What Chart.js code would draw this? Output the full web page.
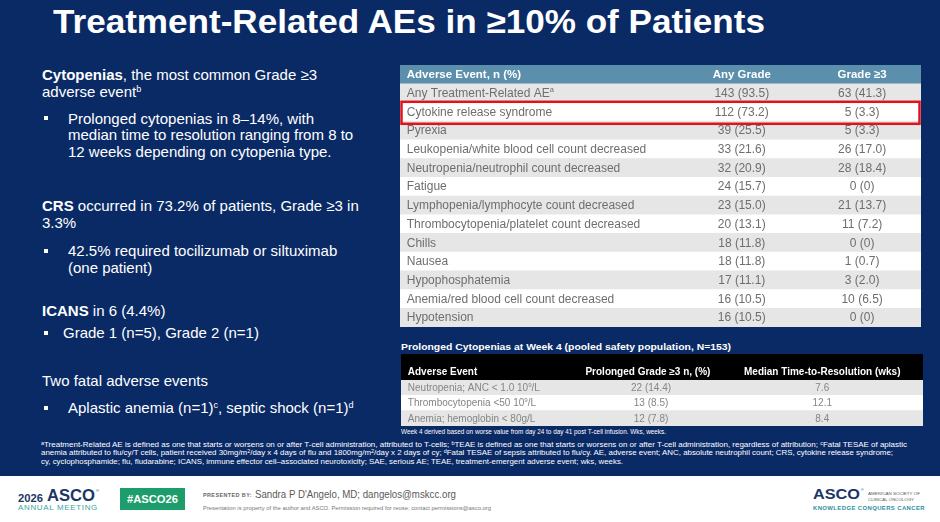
<!DOCTYPE html>
<html>
<head>
<meta charset="utf-8">
<script src="https://cdn.jsdelivr.net/npm/chart.js@4.4.0/dist/chart.umd.min.js"></script>
<style>
  html, body { margin: 0; padding: 0; }
  body { width: 940px; height: 522px; position: relative; overflow: hidden; background: #fff; font-family: "Liberation Sans", Arial, sans-serif; }
  #slide { position: absolute; left: 0; top: 0; width: 940px; height: 476px; background: #0a2a66; }
  .t { position: absolute; white-space: nowrap; transform-origin: 0 50%; }
  .w { color: #fff; }
  .para { position: absolute; color: #fff; font-size: 15px; line-height: 16.7px; white-space: nowrap; }
  .para sup { font-size: 9px; vertical-align: 5px; line-height: 0; }
  .bul { position: absolute; width: 4px; height: 4px; background: #fff; }
  canvas { position: absolute; }
  .fn { color: #fff; font-size: 7.3px; line-height: 8.5px; }
  .fn sup { font-size: 5px; vertical-align: 2px; line-height: 0; }
</style>
</head>
<body>
<div id="slide"></div>

<div class="t w" data-w="712" style="left:53px; top:1.6px; font-size:33px; line-height:40px; font-weight:bold;">Treatment-Related AEs in ≥10% of Patients</div>

<!-- left column text -->
<div class="para" style="left:42px; top:67px;"><b>Cytopenias</b>, the most common Grade ≥3<br>adverse event<sup>b</sup></div>
<div class="bul" style="left:44px; top:116px;"></div>
<div class="para" style="left:68px; top:110.6px;">Prolonged cytopenias in 8–14%, with<br>median time to resolution ranging from 8 to<br>12 weeks depending on cytopenia type.</div>
<div class="para" style="left:42px; top:198.4px;"><b>CRS</b> occurred in 73.2% of patients, Grade ≥3 in<br>3.3%</div>
<div class="bul" style="left:44px; top:249px;"></div>
<div class="para" style="left:68px; top:243px;">42.5% required tocilizumab or siltuximab<br>(one patient)</div>
<div class="para" style="left:42px; top:303.4px;"><b>ICANS</b> in 6 (4.4%)</div>
<div class="bul" style="left:44px; top:331px;"></div>
<div class="para" style="left:63px; top:325px;">Grade 1 (n=5), Grade 2 (n=1)</div>
<div class="para" style="left:42px; top:373.4px;">Two fatal adverse events</div>
<div class="bul" style="left:44px; top:406px;"></div>
<div class="para" style="left:68px; top:400px;">Aplastic anemia (n=1)<sup>c</sup>, septic shock (n=1)<sup>d</sup></div>

<!-- tables -->
<canvas id="aeTable" width="521" height="262" style="left:400px; top:65px;"></canvas>
<div class="t w" data-w="330" style="left:401px; top:341px; font-size:9.5px; line-height:12px; font-weight:bold;">Prolonged Cytopenias at Week 4 (pooled safety population, N=153)</div>
<canvas id="cytoHead" width="522" height="26" style="left:401px; top:354px;"></canvas>
<canvas id="cytoBody" width="522" height="46" style="left:401px; top:380px;"></canvas>
<div class="t w" data-w="265" style="left:401px; top:427px; font-size:8px; line-height:10px;">Week 4 derived based on worse value from day 24 to day 41 post T-cell infusion. Wks, weeks.</div>

<!-- footnotes -->
<div class="t fn" data-w="866" style="left:41px; top:440.7px;"><sup>a</sup>Treatment-Related AE is defined as one that starts or worsens on or after T-cell administration, attributed to T-cells; <sup>b</sup>TEAE is defined as one that starts or worsens on or after T-cell administration, regardless of attribution; <sup>c</sup>Fatal TESAE of aplastic</div>
<div class="t fn" data-w="852" style="left:41px; top:449.2px;">anemia attributed to flu/cy/T cells, patient received 30mg/m<sup>2</sup>/day x 4 days of flu and 1800mg/m<sup>2</sup>/day x 2 days of cy; <sup>d</sup>Fatal TESAE of sepsis attributed to flu/cy. AE, adverse event; ANC, absolute neutrophil count; CRS, cytokine release syndrome;</div>
<div class="t fn" data-w="582" style="left:41px; top:457.7px;">cy, cyclophosphamide; flu, fludarabine; ICANS, immune effector cell–associated neurotoxicity; SAE, serious AE; TEAE, treatment-emergent adverse event; wks, weeks.</div>

<!-- footer -->
<div class="t" data-w="25" style="left:18px; top:492px; font-size:11px; line-height:12px; font-weight:bold; color:#1c3567;">2026</div>
<div class="t" data-w="48" style="left:47px; top:486px; font-size:17px; line-height:20px; font-weight:bold; color:#1c3567;">ASCO</div>
<div class="t" style="left:96px; top:488px; font-size:4px; line-height:5px; color:#1c3567;">®</div>
<div class="t" data-w="80" style="left:18px; top:504px; font-size:7px; line-height:8px; letter-spacing:0.6px; color:#3aa6a1;">ANNUAL MEETING</div>
<div style="position:absolute; left:120px; top:488px; width:65px; height:22px; background:#1d9d6b;"></div>
<div class="t" data-w="51" style="left:127px; top:492px; font-size:11px; line-height:14px; font-weight:bold; color:#fff;">#ASCO26</div>
<div class="t" data-w="49" style="left:203px; top:491.5px; font-size:5px; line-height:6px; font-weight:bold; letter-spacing:0.4px; color:#666;">PRESENTED BY:</div>
<div class="t" data-w="201" style="left:255px; top:488px; font-size:10.5px; line-height:12px; color:#5a5a5a;">Sandra P D'Angelo, MD; dangelos@mskcc.org</div>
<div class="t" data-w="288" style="left:203px; top:505px; font-size:5.5px; line-height:6px; color:#777;">Presentation is property of the author and ASCO. Permission required for reuse; contact permissions@asco.org</div>
<div class="t" data-w="47" style="left:813px; top:485px; font-size:15px; line-height:18px; font-weight:bold; color:#1c3567;">ASCO</div>
<div class="t" style="left:861px; top:488px; font-size:3.5px; line-height:4px; color:#1c3567;">®</div>
<div class="t" data-w="52" style="left:868px; top:490.5px; font-size:4px; line-height:5px; color:#555;">AMERICAN SOCIETY OF</div>
<div class="t" data-w="46" style="left:868px; top:496.5px; font-size:4px; line-height:5px; color:#555;">CLINICAL ONCOLOGY</div>
<div class="t" data-w="112" style="left:813px; top:504.5px; font-size:6px; line-height:7px; font-weight:bold; letter-spacing:0.4px; color:#2e8e9f;">KNOWLEDGE CONQUERS CANCER</div>

<script>
// Tabla 1: AEs relacionados con el tratamiento ('^x' = superindice)
const aeHeader = ['Adverse Event, n (%)', 'Any Grade', 'Grade ≥3'];
const aeEvents = [
  'Any Treatment-Related AE^a',
  'Cytokine release syndrome',
  'Pyrexia',
  'Leukopenia/white blood cell count decreased',
  'Neutropenia/neutrophil count decreased',
  'Fatigue',
  'Lymphopenia/lymphocyte count decreased',
  'Thrombocytopenia/platelet count decreased',
  'Chills',
  'Nausea',
  'Hypophosphatemia',
  'Anemia/red blood cell count decreased',
  'Hypotension'
];
const anyGradeN   = [143, 112, 39, 33, 32, 24, 23, 20, 18, 18, 17, 16, 16];
const anyGradePct = [93.5, 73.2, 25.5, 21.6, 20.9, 15.7, 15.0, 13.1, 11.8, 11.8, 11.1, 10.5, 10.5];
const grade3N     = [63, 5, 5, 26, 28, 0, 21, 11, 0, 1, 3, 10, 0];
const grade3Pct   = [41.3, 3.3, 3.3, 17.0, 18.4, 0, 13.7, 7.2, 0, 0.7, 2.0, 6.5, 0];

// Tabla 2: citopenias prolongadas en semana 4
const cytoHeader = ['Adverse Event', 'Prolonged Grade ≥3 n, (%)', 'Median Time-to-Resolution (wks)'];
const cytoEvents = ['Neutropenia; ANC < 1.0 10^9/L', 'Thrombocytopenia <50 10^9/L', 'Anemia; hemoglobin < 80g/L'];
const cytoN      = [22, 13, 12];
const cytoPct    = [14.4, 8.5, 7.8];
const cytoWeeks  = [7.6, 12.1, 8.4];

const highlightRow = 1; // CRS, recuadro rojo

const fmt = (n, p) => `${n} (${p === 0 ? '0' : p.toFixed(1)})`;
const FONT = '"Liberation Sans", Arial, sans-serif';

// dibuja texto con superindices marcados con '^'
const drawRich = (ctx, txt, x, y, align, st) => {
  const parts = [];
  txt.split(/(\^.)/).forEach(p => {
    if (!p) return;
    if (p[0] === '^') parts.push({ s: p[1], sup: true });
    else parts.push({ s: p, sup: false });
  });
  const fontOf = sup => `${st.bold ? 'bold ' : ''}${sup ? st.size * 0.62 : st.size}px ${FONT}`;
  let total = 0;
  parts.forEach(p => { ctx.font = fontOf(p.sup); p.w = ctx.measureText(p.s).width; total += p.w; });
  let cx = align === 'center' ? x - total / 2 : x;
  ctx.textAlign = 'left';
  parts.forEach(p => {
    ctx.font = fontOf(p.sup);
    ctx.fillText(p.s, cx, p.sup ? y - st.size * 0.3 : y);
    cx += p.w;
  });
};

const makeTable = (id, rows, colors, cfg) => {
  const canvas = document.getElementById(id);
  return new Chart(canvas, {
    type: 'bar',
    data: {
      labels: rows.map(r => r[0]),
      datasets: [{
        data: rows.map(() => 1),
        backgroundColor: colors,
        borderWidth: 0,
        barPercentage: 1,
        categoryPercentage: 1
      }]
    },
    options: {
      indexAxis: 'y',
      responsive: false,
      animation: false,
      events: [],
      layout: { padding: 0 },
      plugins: { legend: { display: false }, tooltip: { enabled: false } },
      scales: {
        x: { display: false, min: 0, max: 1 },
        y: { display: false }
      }
    },
    plugins: [{
      id: 'cellText',
      afterDatasetsDraw(chart) {
        const ctx = chart.ctx;
        const xs = chart.scales.x, ys = chart.scales.y;
        ctx.save();
        rows.forEach((row, i) => {
          const st = cfg.style(i);
          ctx.fillStyle = st.color;
          ctx.textBaseline = 'middle';
          row.forEach((txt, j) => {
            const col = cfg.cols[j];
            drawRich(ctx, String(txt), xs.getPixelForValue(col.x), ys.getPixelForValue(i) + (st.dy || 0), col.align, st);
          });
        });
        if (cfg.after) cfg.after(chart);
        ctx.restore();
      }
    }]
  });
};

// construimos las filas de la tabla 1
const aeRows = [aeHeader].concat(aeEvents.map((e, i) => [e, fmt(anyGradeN[i], anyGradePct[i]), fmt(grade3N[i], grade3Pct[i])]));
const aeColors = aeRows.map((r, i) => i === 0 ? '#5b8fab' : (i % 2 === 1 ? '#e6e6e6' : '#ffffff'));

makeTable('aeTable', aeRows, aeColors, {
  cols: [{ x: 0.013, align: 'left' }, { x: 0.656, align: 'center' }, { x: 0.887, align: 'center' }],
  style: i => i === 0
    ? { size: 11.5, bold: true, color: '#ffffff', dy: 0 }
    : { size: 12, bold: false, color: '#6e6e6e', dy: 0.5 },
  after: chart => {
    const ctx = chart.ctx, ys = chart.scales.y, area = chart.chartArea;
    const yc = ys.getPixelForValue(highlightRow + 1);
    ctx.strokeStyle = '#e0121c';
    ctx.lineWidth = 2.5;
    ctx.strokeRect(area.left + 1.5, yc - 10, area.right - area.left - 3, 22);
  }
});

// tabla 2: cabecera y cuerpo
const headGrad = ctx => {
  const { chart } = ctx;
  const area = chart.chartArea;
  if (!area) return '#1f78c3';
  const g = chart.ctx.createLinearGradient(0, area.top, 0, area.bottom);
  g.addColorStop(0, '#3290dc');
  g.addColorStop(0.35, '#1f7bc6');
  g.addColorStop(1, '#1a71bd');
  return g;
};

makeTable('cytoHead', [cytoHeader], [headGrad], {
  cols: [{ x: 0.013, align: 'left' }, { x: 0.473, align: 'center' }, { x: 0.807, align: 'center' }],
  style: () => ({ size: 10, bold: true, color: '#ffffff', dy: 5 })
});

const cytoRows = cytoEvents.map((e, i) => [e, fmt(cytoN[i], cytoPct[i]), cytoWeeks[i].toFixed(1)]);
makeTable('cytoBody', cytoRows, cytoRows.map((r, i) => i % 2 === 0 ? '#e6e6e6' : '#ffffff'), {
  cols: [{ x: 0.013, align: 'left' }, { x: 0.479, align: 'center' }, { x: 0.807, align: 'center' }],
  style: () => ({ size: 10, bold: false, color: '#858585', dy: 0.5 })
});

// ajusta el ancho de los textos al de la diapositiva
const fitWidth = () => {
  document.querySelectorAll('[data-w]').forEach(el => {
    el.style.transform = '';
    const w = el.getBoundingClientRect().width;
    el.style.transform = `scaleX(${el.dataset.w / w})`;
  });
};
fitWidth();
document.fonts.ready.then(fitWidth);
</script>
</body>
</html>
